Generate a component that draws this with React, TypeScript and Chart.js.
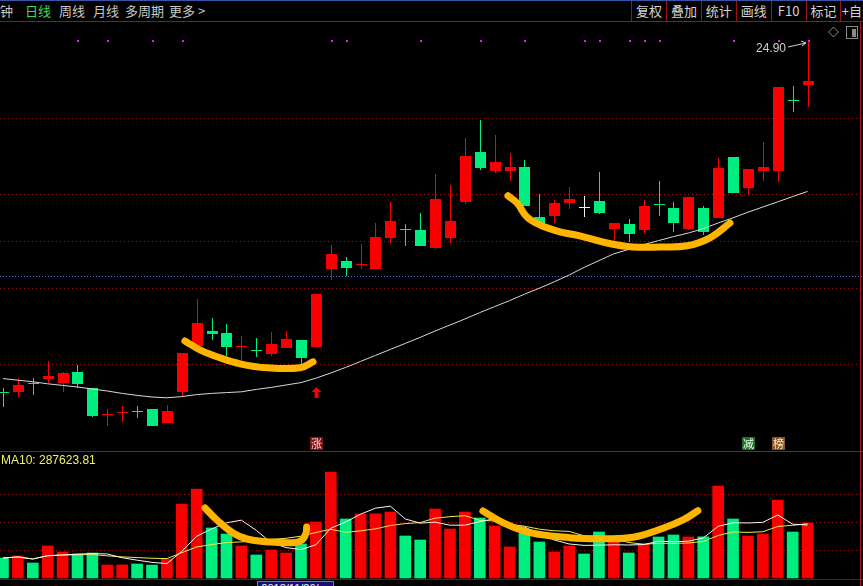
import React, { useEffect, useRef } from 'react';
import { Chart, registerables } from 'chart.js';
Chart.register(...registerables);

// ---------- data ----------
const opens = [16.13, 16.13, 16.36, 16.45, 16.36, 16.62, 16.22, 15.57, 15.61, 15.65,
  15.70, 15.36, 16.13, 17.28, 17.65, 17.61, 17.24, 17.17, 17.08, 17.23,
  17.43, 17.26, 19.20, 19.40, 19.31, 19.20, 19.98, 20.21, 20.18, 19.73,
  19.98, 20.88, 22.13, 21.65, 21.65, 21.75, 20.50, 20.53, 20.86, 20.76,
  20.91, 20.20, 20.33, 20.18, 20.83, 20.72, 20.20, 20.72, 20.48, 22.00,
  21.23, 21.66, 21.65, 23.43, 23.80];
const closes = [16.10, 16.30, 16.35, 16.53, 16.61, 16.32, 15.53, 15.58, 15.62, 15.64,
  15.28, 15.65, 17.10, 17.86, 17.57, 17.26, 17.28, 17.15, 17.33, 17.44,
  16.98, 18.58, 19.58, 19.23, 19.32, 20.00, 20.40, 20.20, 19.78, 20.95,
  20.40, 22.03, 21.73, 21.88, 21.76, 20.78, 20.32, 20.86, 20.96, 20.76,
  20.61, 20.36, 20.08, 20.78, 20.81, 20.34, 21.00, 20.12, 21.73, 21.09,
  21.70, 21.76, 23.76, 23.42, 23.90];
const highs = [16.23, 16.48, 16.48, 16.91, 16.63, 16.80, 16.23, 15.70, 15.78, 15.78,
  15.70, 15.80, 17.10, 18.45, 17.97, 17.83, 17.53, 17.47, 17.63, 17.65,
  17.43, 18.58, 19.80, 19.51, 19.83, 20.36, 20.88, 20.32, 20.61, 21.58,
  21.29, 22.48, 22.93, 22.56, 22.11, 21.93, 21.08, 20.93, 21.26, 21.03,
  21.63, 20.36, 20.45, 20.93, 21.40, 20.88, 21.00, 20.78, 21.97, 22.00,
  21.70, 22.37, 23.76, 23.78, 24.90];
const lows = [15.75, 16.00, 16.05, 16.36, 16.13, 16.22, 15.51, 15.28, 15.38, 15.47,
  15.27, 15.36, 16.03, 17.28, 17.43, 17.03, 16.87, 17.01, 17.03, 17.23,
  16.76, 17.26, 18.93, 19.03, 19.21, 19.20, 19.84, 19.78, 19.78, 19.70,
  19.84, 20.83, 21.68, 21.59, 21.40, 20.78, 20.28, 20.34, 20.69, 20.51,
  20.57, 19.73, 19.88, 20.11, 20.53, 20.13, 20.18, 20.05, 20.48, 21.09,
  21.08, 21.41, 21.38, 23.13, 23.26];
const priceMA = [16.46, 16.42, 16.38, 16.33, 16.29, 16.25, 16.20, 16.15, 16.09, 16.04,
  16.00, 15.98, 16.01, 16.06, 16.09, 16.11, 16.13, 16.19, 16.24, 16.30,
  16.36, 16.47, 16.60, 16.74, 16.89, 17.04, 17.19, 17.34, 17.49, 17.65,
  17.80, 17.95, 18.11, 18.26, 18.41, 18.57, 18.72, 18.88, 19.05, 19.24,
  19.41, 19.58, 19.69, 19.81, 19.91, 20.01, 20.10, 20.21, 20.35, 20.48,
  20.62, 20.75, 20.88, 21.01, 21.14];
const volumes = [107100, 117900, 80400, 171400, 139300, 128600, 133900, 69600, 70200, 75000,
  69000, 101800, 396400, 476800, 267900, 235700, 171400, 123200, 150000, 133900,
  182100, 300000, 567800, 316100, 342800, 343500, 353600, 225000, 203600, 369600,
  262500, 353600, 321400, 278600, 166100, 241100, 192900, 139300, 171400, 128600,
  246400, 203600, 133900, 182100, 219600, 230400, 219600, 220500, 492800, 316100,
  225000, 235700, 417800, 246400, 294600];
const signalIdx = [5, 7, 10, 12, 22, 23, 28, 32, 35, 39, 40, 42, 43, 44, 49, 52, 54];
const signalLevel = 24.90;
const gridPrices = [22.975, 21.075, 19.9, 18.725, 16.825];
const refPrice = 19.025;
const volGrid = [150000, 300000, 450000];
const upArrow = { idx: 21, price: 16.1 };
const badges = [
  { idx: 21, text: '涨', bg: '#7c1212', fg: '#ffd0d0' },
  { idx: 50, text: '减', bg: '#1f6e2a', fg: '#e8ffe8' },
  { idx: 52, text: '榜', bg: '#8a5526', fg: '#ffe6c8' },
];
const curveA = [{ x: 12.21, y: 17.40 }, { x: 13.22, y: 17.18 }, { x: 14.56, y: 16.98 }, { x: 15.91, y: 16.83 },
  { x: 17.72, y: 16.73 }, { x: 19.93, y: 16.73 }, { x: 20.81, y: 16.88 }];
const curveB = [{ x: 33.89, y: 21.03 }, { x: 34.50, y: 20.85 }, { x: 35.17, y: 20.50 }, { x: 36.04, y: 20.30 },
  { x: 37.38, y: 20.13 }, { x: 38.72, y: 20.03 }, { x: 40.54, y: 19.85 }, { x: 42.28, y: 19.75 },
  { x: 44.09, y: 19.75 }, { x: 45.91, y: 19.78 }, { x: 47.45, y: 19.98 }, { x: 48.79, y: 20.35 }];
const curveC = [{ x: 13.56, y: 375000 }, { x: 14.36, y: 310700 }, { x: 15.44, y: 241100 }, { x: 16.38, y: 208900 },
  { x: 17.72, y: 194500 }, { x: 19.46, y: 189100 }, { x: 20.07, y: 203600 }, { x: 20.34, y: 241100 },
  { x: 20.38, y: 273200 }];
const curveD = [{ x: 32.21, y: 358900 }, { x: 33.56, y: 296200 }, { x: 35.37, y: 242700 }, { x: 38.05, y: 215900 },
  { x: 40.27, y: 210500 }, { x: 42.28, y: 218000 }, { x: 44.30, y: 266200 }, { x: 45.64, y: 310700 },
  { x: 46.64, y: 360500 }];
const volMA10Label = 'MA10: 287623.81';
const dateLabel = '2018/11/26/一';
const leftMenu = [
  { t: '分钟', x: -13, c: '#c8c8c8' }, { t: '日线', x: 25, c: '#3fd75f' }, { t: '周线', x: 59, c: '#c8c8c8' },
  { t: '月线', x: 93, c: '#c8c8c8' }, { t: '多周期', x: 125, c: '#c8c8c8' }, { t: '更多 >', x: 169, c: '#c8c8c8' },
];
const rightMenu = ['复权', '叠加', '统计', '画线', 'F10', '标记', '+自选'];

const RED = '#f80000';
const GREEN = '#00ee80';
const WHITE = '#f0f0f0';
const X_MIN = -0.2;
const X_MAX = 57.72;

const movingAvg = (arr: number[], n: number) =>
  arr.map((_, i) => {
    const s = arr.slice(Math.max(0, i - n + 1), i + 1);
    return s.reduce((a, b) => a + b, 0) / s.length;
  });

const pricePlugin = {
  id: 'candles',
  beforeDatasetsDraw(chart: any) {
    const { ctx, chartArea, scales } = chart;
    const x = scales.x, y = scales.y;
    ctx.save();
    ctx.lineWidth = 1;
    ctx.strokeStyle = '#9c1616';
    ctx.setLineDash([1, 3]);
    gridPrices.forEach((p) => {
      const py = Math.round(y.getPixelForValue(p)) + 0.5;
      ctx.beginPath(); ctx.moveTo(chartArea.left, py); ctx.lineTo(chartArea.right, py); ctx.stroke();
    });
    ctx.strokeStyle = '#4a6ee0';
    ctx.setLineDash([1, 2]);
    const ry = Math.round(y.getPixelForValue(refPrice)) + 0.5;
    ctx.beginPath(); ctx.moveTo(chartArea.left, ry); ctx.lineTo(chartArea.right, ry); ctx.stroke();
    ctx.setLineDash([]);
    for (let i = 0; i < opens.length; i++) {
      const o = opens[i], c = closes[i];
      const cx = Math.round(x.getPixelForValue(i));
      ctx.fillStyle = c > o ? RED : c < o ? GREEN : WHITE;
      const yh = Math.round(y.getPixelForValue(highs[i]));
      const yl = Math.round(y.getPixelForValue(lows[i]));
      ctx.fillRect(cx, yh, 1, Math.max(1, yl - yh));
      const top = Math.round(y.getPixelForValue(Math.max(o, c)));
      const bot = Math.round(y.getPixelForValue(Math.min(o, c)));
      ctx.fillRect(cx - 5, top, 11, Math.max(1, bot - top));
    }
    ctx.restore();
  },
  afterDatasetsDraw(chart: any) {
    const { ctx, chartArea, scales } = chart;
    const x = scales.x, y = scales.y;
    ctx.save();
    // signal dots
    ctx.fillStyle = '#e020f0';
    const sy = Math.round(y.getPixelForValue(signalLevel));
    signalIdx.forEach((i) => {
      const sx = Math.round(x.getPixelForValue(i));
      ctx.fillRect(sx, sy - 1, 2, 2);
    });
    // up arrow
    const ax = Math.round(x.getPixelForValue(upArrow.idx)) + 0.5;
    const ay = y.getPixelForValue(upArrow.price);
    ctx.fillStyle = RED;
    ctx.beginPath();
    ctx.moveTo(ax, ay - 6); ctx.lineTo(ax + 5, ay - 1); ctx.lineTo(ax - 5, ay - 1); ctx.closePath(); ctx.fill();
    ctx.fillRect(ax - 2, ay - 1, 4, 6);
    // badges
    ctx.font = '11px "Noto Sans CJK SC"';
    ctx.textAlign = 'center';
    ctx.textBaseline = 'middle';
    badges.forEach((b) => {
      const bx = Math.round(x.getPixelForValue(b.idx));
      const by = chartArea.bottom - 14;
      ctx.fillStyle = b.bg;
      ctx.fillRect(bx - 6, by, 13, 13);
      ctx.fillStyle = b.fg;
      ctx.fillText(b.text, bx + 0.5, by + 6.5);
    });
    // max label
    let mi = 0;
    highs.forEach((h, i) => { if (h > highs[mi]) mi = i; });
    const mx = Math.round(x.getPixelForValue(mi));
    const my = Math.round(y.getPixelForValue(highs[mi]));
    ctx.fillStyle = '#d0d0d0';
    ctx.strokeStyle = '#d0d0d0';
    ctx.font = '12px "Liberation Sans"';
    ctx.textAlign = 'right';
    ctx.fillText(highs[mi].toFixed(2), mx - 22, my + 8);
    ctx.lineWidth = 1;
    ctx.beginPath(); ctx.moveTo(mx - 20, my + 6); ctx.lineTo(mx - 2, my + 2); ctx.stroke();
    ctx.beginPath(); ctx.moveTo(mx - 7, my); ctx.lineTo(mx - 2, my + 2); ctx.lineTo(mx - 6, my + 5); ctx.stroke();
    // top-right icons
    ctx.strokeStyle = '#8a8a8a';
    ctx.beginPath(); ctx.moveTo(833.5, 5); ctx.lineTo(838.5, 10); ctx.lineTo(833.5, 15); ctx.lineTo(828.5, 10); ctx.closePath(); ctx.stroke();
    ctx.strokeRect(846.5, 4.5, 11, 12);
    ctx.fillStyle = '#8a8a8a';
    ctx.fillRect(852, 7, 4, 8);
    ctx.restore();
  },
};

const volPlugin = {
  id: 'volgrid',
  beforeDatasetsDraw(chart: any) {
    const { ctx, chartArea, scales } = chart;
    ctx.save();
    ctx.strokeStyle = '#9c1616';
    ctx.lineWidth = 1;
    ctx.setLineDash([1, 3]);
    volGrid.forEach((v) => {
      const py = Math.round(scales.y.getPixelForValue(v)) + 0.5;
      ctx.beginPath(); ctx.moveTo(chartArea.left, py); ctx.lineTo(chartArea.right, py); ctx.stroke();
    });
    ctx.restore();
  },
};

const annot = (data: any[]) => ({
  type: 'line' as const,
  data,
  borderColor: '#ffb400',
  borderWidth: 7,
  borderCapStyle: 'round',
  borderJoinStyle: 'round',
  tension: 0.4,
  pointRadius: 0,
  fill: false,
});

export default function App() {
  const priceRef = useRef<HTMLCanvasElement>(null);
  const volRef = useRef<HTMLCanvasElement>(null);

  useEffect(() => {
    document.body.style.margin = '0';
    document.body.style.background = '#000';
    document.body.style.overflow = 'hidden';
    const common = {
      responsive: false,
      animation: false as const,
      events: [] as any[],
      devicePixelRatio: 1,
      layout: { padding: 0 },
      plugins: { legend: { display: false }, tooltip: { enabled: false } },
    };
    const pc = new Chart(priceRef.current!, {
      type: 'line',
      data: {
        datasets: [
          annot(curveA) as any,
          annot(curveB) as any,
          {
            data: priceMA.map((v, i) => ({ x: i, y: v })),
            borderColor: '#d8d8d8',
            borderWidth: 1,
            pointRadius: 0,
            tension: 0,
          },
        ],
      },
      options: {
        ...common,
        scales: {
          x: { type: 'linear', min: X_MIN, max: X_MAX, display: false },
          y: { type: 'linear', min: 14.65, max: 25.375, display: false },
        },
      } as any,
      plugins: [pricePlugin],
    });
    const ma5 = movingAvg(volumes, 5);
    const ma10 = movingAvg(volumes, 10);
    const vc = new Chart(volRef.current!, {
      type: 'bar',
      data: {
        datasets: [
          annot(curveC) as any,
          annot(curveD) as any,
          {
            type: 'line',
            data: ma5.map((v, i) => ({ x: i, y: v })),
            borderColor: '#f4f4f4', borderWidth: 1, pointRadius: 0, tension: 0,
          } as any,
          {
            type: 'line',
            data: ma10.map((v, i) => ({ x: i, y: v })),
            borderColor: '#ecec48', borderWidth: 1, pointRadius: 0, tension: 0,
          } as any,
          {
            type: 'bar',
            data: volumes.map((v, i) => ({ x: i, y: v })),
            backgroundColor: volumes.map((_, i) => (closes[i] > opens[i] ? RED : GREEN)),
            barThickness: 11,
            borderWidth: 0,
          } as any,
        ],
      },
      options: {
        ...common,
        scales: {
          x: { type: 'linear', min: X_MIN, max: X_MAX, display: false, offset: false },
          y: { type: 'linear', min: -43000, max: 675000, display: false },
        },
      } as any,
      plugins: [volPlugin],
    });
    return () => { pc.destroy(); vc.destroy(); };
  }, []);

  const textBase: React.CSSProperties = {
    position: 'absolute', top: 0, height: 21, lineHeight: '21px', fontSize: 13,
    fontFamily: '"Noto Sans CJK SC", sans-serif', whiteSpace: 'nowrap',
  };

  return (
    <div style={{ position: 'relative', width: 863, height: 586, background: '#000', overflow: 'hidden' }}>
      <div style={{ position: 'absolute', left: 0, top: 0, width: 863, height: 1, background: '#3556a8' }} />
      {leftMenu.map((m) => (
        <div key={m.t} style={{ ...textBase, left: m.x, color: m.c }}>{m.t}</div>
      ))}
      {rightMenu.map((t, i) => (
        <React.Fragment key={t}>
          <div style={{ position: 'absolute', left: 631 + i * 34.9, top: 1, width: 1, height: 20, background: '#9a1414' }} />
          <div style={{ ...textBase, left: 632 + i * 34.9, width: 34, textAlign: 'center', color: '#d4d4d4' }}>{t}</div>
        </React.Fragment>
      ))}
      <div style={{ position: 'absolute', left: 0, top: 21, width: 863, height: 1, background: '#9a1414' }} />
      <canvas ref={priceRef} width={863} height={429} style={{ position: 'absolute', left: 0, top: 22, width: 863, height: 429 }} />
      <div style={{ position: 'absolute', left: 0, top: 451, width: 863, height: 1, background: '#9a1414' }} />
      <canvas ref={volRef} width={863} height={134} style={{ position: 'absolute', left: 0, top: 452, width: 863, height: 134 }} />
      <div style={{ position: 'absolute', left: 1, top: 453, fontSize: 12, lineHeight: '14px', color: '#f0f060', fontFamily: '"Liberation Sans", Arial, sans-serif' }}>{volMA10Label}</div>
      <div style={{ position: 'absolute', left: 0, top: 579, width: 863, height: 1, background: '#8a1010' }} />
      <div style={{ position: 'absolute', left: 257, top: 581, width: 75, height: 13, background: '#12127a', border: '1px solid #7070e0', color: '#f0f0f0', fontSize: 11, lineHeight: '13px', textAlign: 'center', fontFamily: '"Liberation Sans", sans-serif' }}>{dateLabel}</div>
      <div style={{ position: 'absolute', left: 860, top: 21, width: 1, height: 565, background: '#a01414' }} />
    </div>
  );
}
